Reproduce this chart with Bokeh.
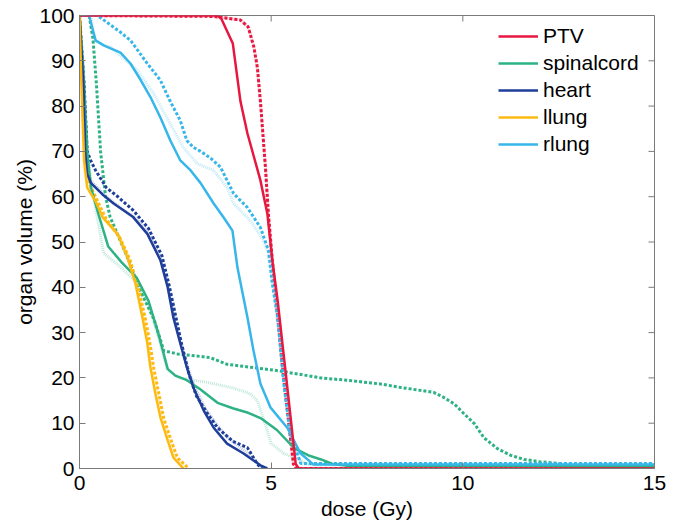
from bokeh.plotting import figure
from bokeh.models import Range1d, Legend, LegendItem, FixedTicker
from bokeh.embed import file_html
from bokeh.resources import INLINE

# ---------------- data ----------------
organs = ["PTV", "spinalcord", "heart", "llung", "rlung"]
colors = ["#E8173F", "#2DB383", "#1E3E9A", "#FDBA12", "#36B6E9"]

x_ticks = [0, 5, 10, 15]
y_ticks = [0, 10, 20, 30, 40, 50, 60, 70, 80, 90, 100]

# PTV
ptv_s_x = [0, 3.6, 3.7, 4.0, 4.2, 4.38, 4.72, 4.9, 5.03, 5.17, 5.4, 5.64, 5.72, 15]
ptv_s_y = [100, 100, 99.3, 93.8, 81, 74, 63.6, 56.3, 46, 37, 19.5, 1, 0, 0]
ptv_d_x = [0, 3.5, 4.2, 4.4, 4.55, 4.64, 4.72, 4.85, 4.93, 5.03, 5.3, 5.58, 5.65, 15]
ptv_d_y = [100, 99.8, 99, 97.5, 93, 88.5, 81, 66.5, 56, 46, 22, 1, 0, 0]
ptv_f_x = [0, 3.5, 4.2, 4.4, 4.55, 4.64, 4.72, 4.85, 4.93, 5.03, 5.3, 5.58, 5.65, 15]
ptv_f_y = [100, 99.8, 99, 97.5, 93, 88.5, 81, 66.5, 56, 46, 22, 1, 0, 0]

# spinal cord
sc_s_x = [0, 0.1, 0.2, 0.3, 0.5, 0.75, 1.1, 1.5, 1.8, 2.05, 2.3, 2.5, 2.8, 3.15, 3.6, 4.0, 4.4, 4.75, 5.15, 5.6, 6.0, 6.3, 6.6, 7.0, 15]
sc_s_y = [100, 88, 70, 62, 56, 49, 45.5, 42, 37, 30, 22, 20.5, 19.5, 17.5, 14.5, 13.3, 12.3, 11, 8.5, 4.5, 2.8, 2, 1, 0.6, 0.5]
sc_d_x = [0, 0.25, 0.35, 0.44, 0.55, 0.68, 0.8, 1.25, 1.6, 1.94, 2.2, 2.55, 3.4, 3.85, 5.17, 6.3, 7.07, 7.9, 8.37, 9.24, 9.5, 9.77, 10.03, 10.3, 10.55, 10.9, 11.25, 11.6, 12.0, 12.5, 12.9, 13.6, 15]
sc_d_y = [100, 100, 95, 85, 70, 60, 55.5, 46.6, 39, 33, 26, 25.3, 24.5, 23, 21.6, 20, 19.4, 18.6, 17.9, 16.8, 15.7, 14.3, 12.1, 9.9, 6.8, 4.4, 2.9, 2.0, 1.5, 1.1, 0.4, 0.2, 0.2]
sc_f_x = [0, 0.12, 0.3, 0.63, 1.0, 1.5, 1.8, 2.03, 2.3, 2.63, 3.34, 4.0, 4.46, 4.64, 4.8, 5.0, 5.33, 5.6, 6.0, 15]
sc_f_y = [100, 80, 63, 47.5, 45, 41, 36, 29.8, 21.6, 20, 19, 17.8, 16.5, 15, 11, 5.5, 3.3, 2.4, 0.8, 0.5]

# heart
hr_s_x = [0, 0.1, 0.15, 0.2, 0.3, 0.6, 0.89, 1.4, 1.77, 2.11, 2.3, 2.45, 2.63, 2.8, 2.97, 3.24, 3.5, 3.85, 4.28, 4.72, 4.9]
hr_s_y = [100, 85, 70, 65, 63, 60.5, 58.5, 55.5, 51.8, 46, 40, 33.3, 27.6, 22.3, 17.9, 12.8, 9, 5.5, 3.3, 0.7, 0]
hr_d_x = [0, 0.12, 0.2, 0.29, 0.42, 0.7, 1.0, 1.4, 1.8, 2.15, 2.35, 2.5, 2.65, 2.85, 3.05, 3.35, 3.6, 4.0, 4.38, 4.64, 4.75]
hr_d_y = [100, 85, 70, 68, 65.8, 62, 60, 57, 53, 47, 40, 34, 28, 21, 16, 12, 9, 6, 4.6, 1, 0]
hr_f_x = [0, 0.1, 0.2, 0.3, 0.7, 1.0, 1.5, 1.8, 2.1, 2.3, 2.45, 2.6, 2.8, 3.0, 3.3, 3.6, 3.9, 4.3, 4.6, 4.8]
hr_f_y = [100, 80, 66, 63.5, 60, 58, 55, 52, 47, 41, 35, 29, 23, 18, 13, 9.5, 6.5, 4, 1.5, 0]

# left lung
ll_s_x = [0, 0.05, 0.12, 0.2, 0.42, 0.6, 0.99, 1.25, 1.46, 1.64, 1.77, 1.85, 1.98, 2.11, 2.3, 2.45, 2.71]
ll_s_y = [100, 85, 68, 62, 59, 55.5, 51.8, 46.6, 40.8, 33.4, 27.6, 22.3, 16.5, 11.3, 6.2, 2.4, 0]
ll_d_x = [0, 0.08, 0.15, 0.25, 0.5, 0.7, 1.05, 1.32, 1.53, 1.72, 1.85, 1.94, 2.07, 2.2, 2.4, 2.55, 2.85]
ll_d_y = [100, 85, 68, 63, 58.5, 55, 51, 46, 40, 33, 27, 22, 16.5, 11, 6, 2.4, 0]
ll_f_x = [0, 0.06, 0.13, 0.22, 0.45, 0.65, 1.02, 1.28, 1.5, 1.68, 1.81, 1.9, 2.03, 2.16, 2.35, 2.5, 2.78]
ll_f_y = [100, 85, 66, 62, 58, 55, 51.5, 46.3, 40.5, 33.2, 27.4, 22.2, 16.5, 11.2, 6.1, 2.4, 0]

# right lung
rl_s_x = [0, 0.25, 0.42, 0.63, 1.07, 1.33, 1.6, 1.85, 2.11, 2.37, 2.63, 2.9, 3.16, 3.5, 3.76, 3.99, 4.12, 4.2, 4.38, 4.54, 4.72, 4.98, 5.42, 5.77, 6.1, 15]
rl_s_y = [100, 100, 94.5, 93.4, 91.8, 89.4, 85.7, 82, 77.5, 72.4, 68, 65.8, 63, 58.5, 55.4, 52.5, 44.4, 41, 33.4, 26, 18.7, 13.5, 9, 3.3, 0.9, 0.9]
rl_d_x = [0, 0.47, 1.07, 1.33, 1.77, 2.11, 2.37, 2.63, 2.8, 2.97, 3.16, 3.42, 3.68, 4.02, 4.38, 4.72, 4.93, 5.03, 5.17, 5.33, 5.5, 5.77, 15]
rl_d_y = [100, 100, 96.3, 94.5, 89.4, 85.7, 81, 76.8, 72.4, 70.9, 70, 68.5, 66.5, 60.7, 57.6, 53.2, 48.1, 40.8, 33.4, 18.7, 7.7, 1.1, 1.1]
rl_f_x = [0, 0.3, 0.37, 0.8, 1.5, 1.94, 2.37, 2.7, 3.07, 3.5, 3.85, 4.02, 4.46, 4.8, 4.93, 5.05, 5.2, 5.35, 5.5, 5.8, 15]
rl_f_y = [100, 100, 94.5, 93, 88, 82.7, 76, 71, 67.3, 65.8, 62, 58.5, 54.7, 50.3, 47.4, 40, 30, 17, 7, 1.0, 1.0]

series = {
    "PTV": (ptv_s_x, ptv_s_y, ptv_d_x, ptv_d_y, ptv_f_x, ptv_f_y),
    "spinalcord": (sc_s_x, sc_s_y, sc_d_x, sc_d_y, sc_f_x, sc_f_y),
    "heart": (hr_s_x, hr_s_y, hr_d_x, hr_d_y, hr_f_x, hr_f_y),
    "llung": (ll_s_x, ll_s_y, ll_d_x, ll_d_y, ll_f_x, ll_f_y),
    "rlung": (rl_s_x, rl_s_y, rl_d_x, rl_d_y, rl_f_x, rl_f_y),
}

# ---------------- figure ----------------
FONT = "Liberation Sans"
AX = "#7a7a7a"
X0, X1, Y0, Y1 = 0, 15, 0, 100

p = figure(width=682, height=524, output_backend="svg", toolbar_location=None,
           x_range=Range1d(X0, X1), y_range=Range1d(Y0, Y1),
           min_border_left=79, min_border_right=28, min_border_top=15, min_border_bottom=56)
p.outline_line_color = AX
p.outline_line_width = 1
p.grid.visible = False
p.background_fill_color = "white"
p.border_fill_color = "white"

for ax in (p.xaxis[0], p.yaxis[0]):
    ax.axis_line_color = AX
    ax.major_tick_line_color = AX
    ax.major_tick_in = 6
    ax.major_tick_out = 0
    ax.minor_tick_line_color = None
    ax.major_label_text_font = FONT
    ax.major_label_text_font_size = "21px"
    ax.major_label_text_color = "black"
    ax.axis_label_text_font = FONT
    ax.axis_label_text_font_size = "21px"
    ax.axis_label_text_font_style = "normal"
    ax.axis_label_text_color = "black"

p.xaxis[0].ticker = FixedTicker(ticks=x_ticks)
p.yaxis[0].ticker = FixedTicker(ticks=y_ticks)
p.xaxis[0].axis_label = "dose (Gy)"
p.yaxis[0].axis_label = "organ volume (%)"
p.xaxis[0].major_label_standoff = 7
p.yaxis[0].major_label_standoff = 5
p.xaxis[0].axis_label_standoff = 4
p.yaxis[0].axis_label_standoff = 0

# inward ticks on the top and right sides of the box (tick length in px -> data units)
tick_px = 6
frame_w, frame_h = 682 - 79 - 28, 524 - 15 - 56
dx_tick = tick_px * (X1 - X0) / frame_w
dy_tick = tick_px * (Y1 - Y0) / frame_h
p.segment(x0=x_ticks, y0=[Y1] * len(x_ticks), x1=x_ticks, y1=[Y1 - dy_tick] * len(x_ticks),
          line_color=AX, line_width=1)
p.segment(x0=[X1] * len(y_ticks), y0=y_ticks, x1=[X1 - dx_tick] * len(y_ticks), y1=y_ticks,
          line_color=AX, line_width=1)

renderers = {}
# faint lines
for name, col in zip(organs, colors):
    sx, sy, dx, dy, fx, fy = series[name]
    p.line(fx, fy, line_color=col, line_width=3, line_alpha=0.3, line_dash="1 1")
# dotted lines
for name, col in zip(organs, colors):
    sx, sy, dx, dy, fx, fy = series[name]
    p.line(dx, dy, line_color=col, line_width=3, line_dash="3 2")
# solid lines (PTV last so it lies on top)
for name, col in list(zip(organs, colors))[1:] + [(organs[0], colors[0])]:
    sx, sy, dx, dy, fx, fy = series[name]
    renderers[name] = p.line(sx, sy, line_color=col, line_width=2.5)

legend = Legend(items=[LegendItem(label=n, renderers=[renderers[n]]) for n in organs],
                location=(419, 312))
legend.label_text_font = FONT
legend.label_text_font_size = "21px"
legend.label_text_color = "black"
legend.glyph_width = 40
legend.glyph_height = 20
legend.label_height = 20
legend.label_standoff = 5
legend.spacing = 3
legend.padding = 5
legend.margin = 0
legend.border_line_color = None
legend.background_fill_alpha = 0
p.add_layout(legend, "center")

open("out.html", "w").write(file_html(p, INLINE))
